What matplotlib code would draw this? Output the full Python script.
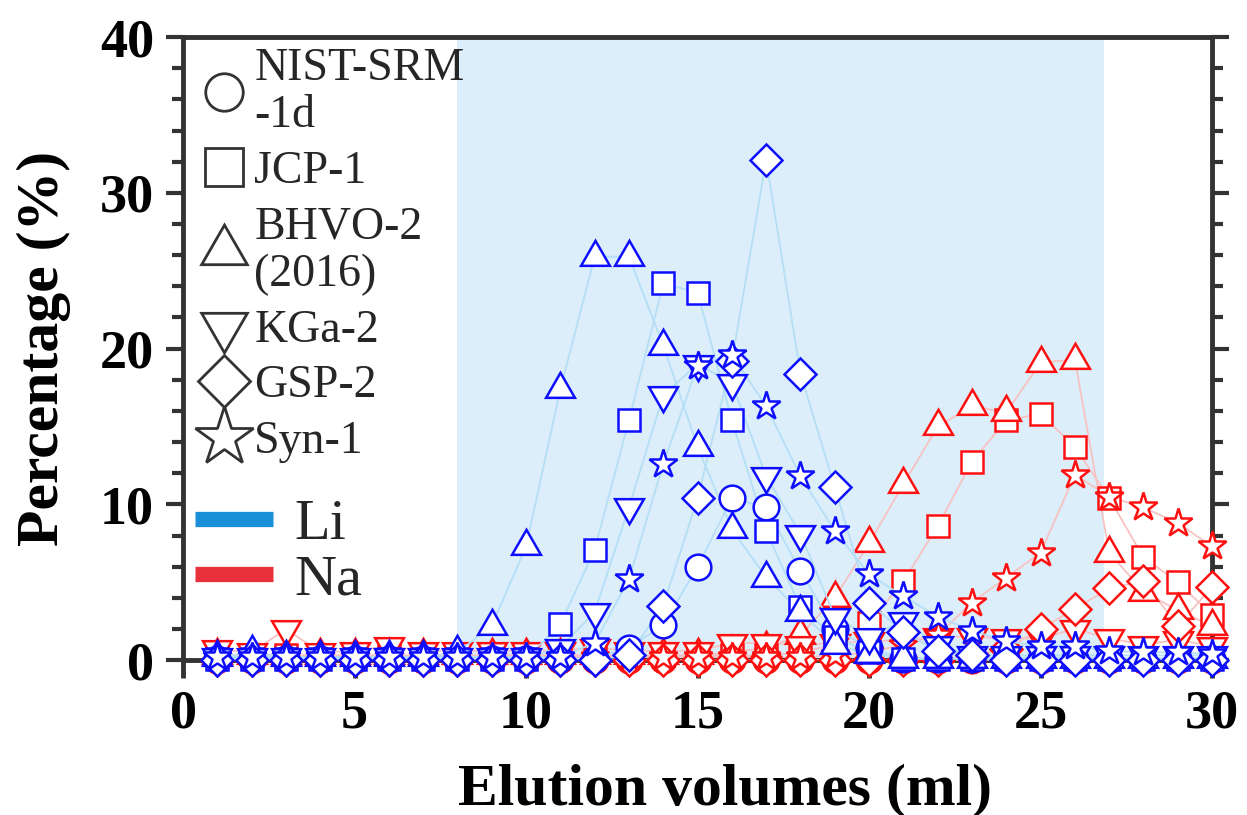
import matplotlib
matplotlib.use("Agg")
import matplotlib.pyplot as plt
from matplotlib.lines import Line2D
from matplotlib.ticker import MultipleLocator

plt.rcParams['font.family'] = ['Liberation Serif', 'DejaVu Serif']

# Elution volume (ml) of each collected fraction
volumes = list(range(1, 31))

# ---- Li recovered in each fraction (%) ----
li_nist = [0.1, 0.1, 0.1, 0.1, 0.1, 0.1, 0.1, 0.1, 0.1, 0.1, 0.1, 0.1, 0.8, 2.25, 6.0,
           10.4, 9.8, 5.7, 2.0, 0.8, 0.1, 0.1, 0.1, 0.1, 0.1, 0.1, 0.1, 0.1, 0.1, 0.1]
li_jcp = [0.1, 0.1, 0.1, 0.1, 0.1, 0.1, 0.1, 0.1, 0.1, 0.1, 2.3, 7.1, 15.4, 24.2, 23.6,
          15.4, 8.3, 3.4, 1.5, 0.5, 0.1, 0.1, 0.1, 0.1, 0.1, 0.1, 0.1, 0.1, 0.1, 0.1]
li_bhvo = [0.2, 0.5, 0.2, 0.2, 0.2, 0.2, 0.2, 0.5, 2.2, 7.3, 17.4, 25.9, 25.9, 20.2, 13.7,
           8.4, 5.3, 3.1, 1.0, 0.4, 0.1, 0.1, 0.1, 0.1, 0.1, 0.1, 0.1, 0.1, 0.1, 0.1]
li_kga = [0.2, 0.2, 0.2, 0.2, 0.2, 0.2, 0.2, 0.2, 0.2, 0.2, 0.8, 3.1, 9.8, 17.0, 19.0,
          17.8, 11.8, 8.1, 2.8, 1.5, 2.5, 1.0, 0.3, 0.3, 0.3, 0.3, 0.3, 0.3, 0.3, 0.3]
li_gsp = [0.0, 0.0, 0.0, 0.0, 0.0, 0.0, 0.0, 0.0, 0.0, 0.0, 0.0, 0.0, 0.3, 3.5, 10.4,
          19.2, 32.1, 18.4, 11.1, 3.7, 1.8, 0.6, 0.3, 0.0, 0.0, 0.0, 0.0, 0.0, 0.0, 0.0]
li_syn = [0.2, 0.2, 0.2, 0.2, 0.2, 0.2, 0.2, 0.2, 0.2, 0.2, 0.2, 1.1, 5.2, 12.6, 18.9,
          19.6, 16.3, 11.8, 8.3, 5.5, 4.1, 2.8, 1.9, 1.2, 0.9, 0.9, 0.6, 0.5, 0.5, 0.4]

# ---- Na recovered in each fraction (%) ----
na_nist = [0.0] * 30
na_jcp = [0.3, 0.3, 0.3, 0.3, 0.3, 0.3, 0.3, 0.3, 0.3, 0.3, 0.3, 0.3, 0.3, 0.3, 0.3,
          0.3, 0.3, 0.5, 1.0, 2.4, 5.05, 8.6, 12.75, 15.4, 15.8, 13.7, 10.4, 6.6, 5.0, 2.9]
na_bhvo = [0.3, 0.3, 0.3, 0.3, 0.3, 0.3, 0.3, 0.3, 0.3, 0.3, 0.3, 0.3, 0.3, 0.3, 0.3,
           0.5, 0.8, 1.6, 4.0, 7.5, 11.3, 15.0, 16.3, 15.9, 19.1, 19.3, 6.9, 4.4, 3.2, 2.2]
na_kga = [0.7, 0.5, 2.0, 0.5, 0.6, 0.9, 0.6, 0.6, 0.6, 0.6, 0.6, 0.8, 0.6, 0.6, 0.6,
          1.1, 1.1, 1.0, 1.1, 1.2, 1.3, 1.5, 1.5, 1.4, 1.4, 2.0, 1.4, 1.0, 1.3, 0.9]
na_gsp = [0.0, 0.0, 0.0, 0.0, 0.0, 0.0, 0.0, 0.0, 0.0, 0.0, 0.0, 0.0, 0.0, 0.0, 0.0,
          0.0, 0.0, 0.0, 0.0, 0.0, 0.0, 0.0, 0.3, 0.7, 2.0, 3.3, 4.6, 5.1, 2.2, 4.7]
na_syn = [0.2, 0.2, 0.2, 0.2, 0.2, 0.2, 0.2, 0.2, 0.2, 0.2, 0.2, 0.2, 0.2, 0.2, 0.2,
          0.2, 0.2, 0.2, 0.3, 0.5, 1.0, 1.6, 3.7, 5.3, 6.9, 11.9, 10.5, 9.8, 8.8, 7.3]

sample_names = ['NIST-SRM\n-1d', 'JCP-1', 'BHVO-2\n(2016)', 'KGa-2', 'GSP-2', 'Syn-1']
li_series = [li_nist, li_jcp, li_bhvo, li_kga, li_gsp, li_syn]
na_series = [na_nist, na_jcp, na_bhvo, na_kga, na_gsp, na_syn]
elements = ['Li', 'Na']

# Li collection window
li_window = (8, 26.85)

# marker shape / size (pt) per sample, plot and legend
markers = ['o', 's', (3, 0, 0), (3, 0, 180), 'D', '*']
sizes = [18.5, 16.0, 24.0, 24.0, 15.8, 21.5]
leg_sizes = [27.0, 27.0, 38.0, 38.0, 26.0, 44.0]

LI_EDGE = '#0d0dff'
NA_EDGE = '#ff1010'
LI_LINE = '#b5def7'
NA_LINE = '#f7c2c2'
SPINE = '#333333'

fig = plt.figure(figsize=(12.47, 8.15), dpi=100)
ax = fig.add_axes([0.1468, 0.19, 0.8252, 0.7645])

ax.axvspan(li_window[0], li_window[1], color='#dbeefa', lw=0, zorder=0)

# Na first, Li drawn on top
for vals, m, s in zip(na_series, markers, sizes):
    ax.plot(volumes, vals, color=NA_LINE, lw=1.3, zorder=2, clip_on=False)
    ax.plot(volumes, vals, ls='none', marker=m, ms=s, mfc='white', mec=NA_EDGE,
            mew=1.8, zorder=3, clip_on=False)
for vals, m, s in zip(li_series, markers, sizes):
    ax.plot(volumes, vals, color=LI_LINE, lw=1.3, zorder=4, clip_on=False)
    ax.plot(volumes, vals, ls='none', marker=m, ms=s, mfc='white', mec=LI_EDGE,
            mew=1.8, zorder=5, clip_on=False)

ax.set_xlim(0, 30)
ax.set_ylim(0, 40)
ax.set_xticks([0, 5, 10, 15, 20, 25, 30])
ax.set_yticks([0, 10, 20, 30, 40])
ax.yaxis.set_minor_locator(MultipleLocator(2))

for sp in ax.spines.values():
    sp.set_linewidth(3.5)
    sp.set_color(SPINE)
    sp.set_zorder(1)

ax.tick_params(axis='y', which='both', direction='out', left=True, right=True,
               color=SPINE, width=3)
ax.tick_params(axis='y', which='major', length=12, pad=9)
ax.tick_params(axis='y', which='minor', length=8)
ax.tick_params(axis='x', which='major', direction='out', length=13, width=3.5,
               color=SPINE, pad=8)
for lab in ax.get_xticklabels() + ax.get_yticklabels():
    lab.set_fontsize(39)
    lab.set_fontweight('bold')

ax.set_xlabel('Elution volumes (ml)', fontsize=43, fontweight='bold')
ax.set_ylabel('Percentage (%)', fontsize=43, fontweight='bold')
ax.xaxis.set_label_coords(0.527, -0.165)
ax.yaxis.set_label_coords(-0.109, 0.5)

# legend for the sample symbols
sym_handles = [Line2D([], [], ls='none', marker=m, ms=s, mfc='white', mec=SPINE, mew=2.0)
               for m, s in zip(markers, leg_sizes)]
leg1 = ax.legend(sym_handles, sample_names, loc='upper left', bbox_to_anchor=(0.0145, 0.984),
                 frameon=False, fontsize=33, labelspacing=0.29, handlelength=1.15,
                 handletextpad=0.08, borderpad=0, borderaxespad=0, labelcolor='#262626')
for t in leg1.get_texts():
    t.set_linespacing(1.15)
leg1.set_zorder(10)
ax.add_artist(leg1)

# legend for the element colours
el_handles = [Line2D([], [], color='#1a8fd8', lw=11, solid_capstyle='butt'),
              Line2D([], [], color='#e8313b', lw=11, solid_capstyle='butt')]
leg2 = ax.legend(el_handles, elements, loc='upper left', bbox_to_anchor=(0.0116, 0.26),
                 frameon=False, fontsize=42, labelspacing=0.05, handlelength=1.33,
                 handletextpad=0.38, borderpad=0, borderaxespad=0, labelcolor='#262626')
leg2.set_zorder(10)

fig.savefig('out.png', dpi=100)
